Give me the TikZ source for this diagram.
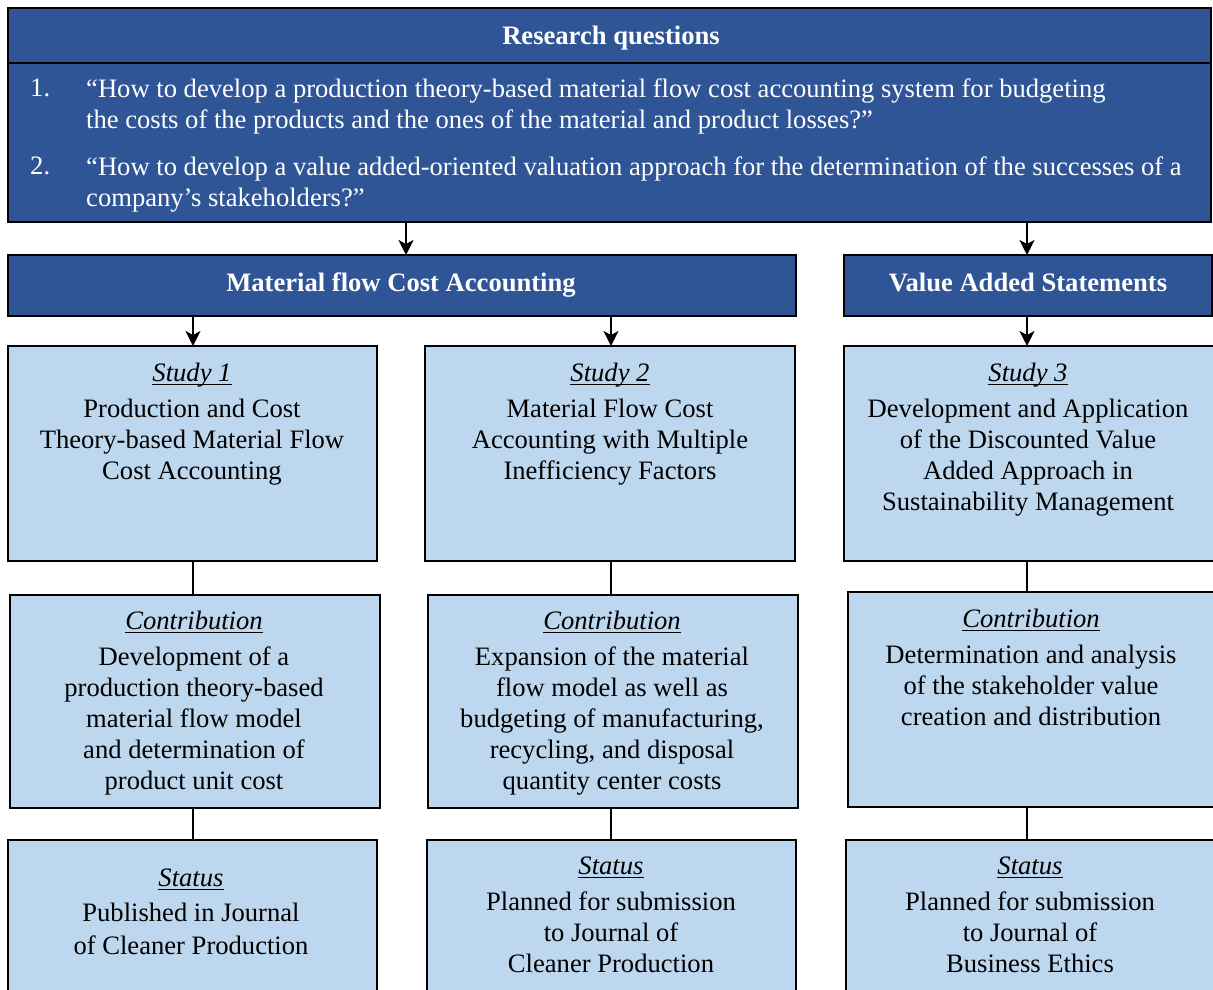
\documentclass[tikz,border=0pt]{standalone}
\usepackage{fontspec}
\setmainfont{Liberation Serif}
\usetikzlibrary{arrows.meta}

\definecolor{darkblue}{HTML}{2F5597}
\definecolor{lightblue}{HTML}{BDD7EE}

\newcommand{\bodyfont}{\fontsize{26.6}{31}\selectfont}
% italic heading with a rule just under the baseline
\newcommand{\ulit}[1]{\setbox0\hbox{\itshape #1}\leavevmode\rlap{\rule[-3.5pt]{\wd0}{1.3pt}}\box0}
\newcommand{\hd}[1]{\ulit{#1}\\[5pt]}

\tikzset{
  boxbase/.style={draw=black, line width=2pt, inner sep=0pt, outer sep=0pt, anchor=north west},
  darkbox/.style={boxbase, fill=darkblue},
  lightbox/.style={boxbase, fill=lightblue},
  boxtext/.style={align=center, inner sep=0pt, anchor=north, font=\bodyfont, text=black},
  whitebold/.style={inner sep=0pt, anchor=base, font=\bodyfont\bfseries, text=white},
  qtext/.style={align=left, inner sep=0pt, anchor=north west, font=\bodyfont, text=white},
  arr/.style={line width=2pt, -{Stealth[length=15pt, width=15pt, inset=4pt]}},
  link/.style={line width=2.2pt}
}

\begin{document}
\begin{tikzpicture}[x=1pt, y=-1pt]
\useasboundingbox (0,0) rectangle (1213,990);
\clip (0,0) rectangle (1213,990);

% research questions
\node[darkbox, minimum width=1203pt, minimum height=55pt] (rqt) at (8,8) {};
\node[darkbox, minimum width=1203pt, minimum height=159pt] (rqb) at (8,63) {};
\node[whitebold] (rqlabel) at (611,44.5) {Research questions};
\node[qtext] (n1) at (30,79) {1.};
\node[qtext] (q1) at (86,79) {“How to develop a production theory-based material flow cost accounting system for budgeting\\the costs of the products and the ones of the material and product losses?”};
\node[qtext] (n2) at (30,157) {2.};
\node[qtext] (q2) at (86,157) {“How to develop a value added-oriented valuation approach for the determination of the successes of a\\company’s stakeholders?”};

% streams
\node[darkbox, minimum width=788pt, minimum height=61pt] (mfca) at (8,255) {};
\node[whitebold] (mfcalabel) at (401,291.5) {Material flow Cost Accounting};
\node[darkbox, minimum width=368pt, minimum height=61pt] (vas) at (844,255) {};
\node[whitebold] (vaslabel) at (1028,291.5) {Value Added Statements};

% studies
\node[lightbox, minimum width=369pt, minimum height=215pt] (s1) at (8,346) {};
\node[lightbox, minimum width=370pt, minimum height=215pt] (s2) at (425,346) {};
\node[lightbox, minimum width=380pt, minimum height=215pt] (s3) at (844,346) {};

\node[boxtext] (s1t) at (192,363) {\hd{Study 1}Production and Cost\\Theory-based Material Flow\\Cost Accounting};
\node[boxtext] (s2t) at (610,363) {\hd{Study 2}Material Flow Cost\\Accounting with Multiple\\Inefficiency Factors};
\node[boxtext] (s3t) at (1028,363) {\hd{Study 3}Development and Application\\of the Discounted Value\\Added Approach in\\Sustainability Management};

% contributions
\node[lightbox, minimum width=370pt, minimum height=213pt] (c1) at (10,595) {};
\node[lightbox, minimum width=370pt, minimum height=213pt] (c2) at (428,595) {};
\node[lightbox, minimum width=380pt, minimum height=215pt] (c3) at (848,592) {};

\node[boxtext] (c1t) at (194,611) {\hd{Contribution}Development of a\\production theory-based\\material flow model\\and determination of\\product unit cost};
\node[boxtext] (c2t) at (612,611) {\hd{Contribution}Expansion of the material\\flow model as well as\\budgeting of manufacturing,\\recycling, and disposal\\quantity center costs};
\node[boxtext] (c3t) at (1031,609) {\hd{Contribution}Determination and analysis\\of the stakeholder value\\creation and distribution};

% status
\node[lightbox, minimum width=369pt, minimum height=170pt] (t1) at (8,840) {};
\node[lightbox, minimum width=369pt, minimum height=170pt] (t2) at (427,840) {};
\node[lightbox, minimum width=380pt, minimum height=170pt] (t3) at (846,840) {};

\node[boxtext] (t1t) at (191,868.5) {\ulit{Status}\\[4pt]Published in Journal\\[2pt]of Cleaner Production};
\node[boxtext] (t2t) at (611,856.5) {\hd{Status}Planned for submission\\to Journal of\\Cleaner Production};
\node[boxtext] (t3t) at (1030,856.5) {\hd{Status}Planned for submission\\to Journal of\\Business Ethics};

% connectors
\coordinate (colA) at (193,0);
\coordinate (colB) at (611,0);
\coordinate (colC) at (1027,0);
\coordinate (colM) at (406,0);

\draw[arr] (colM |- rqb.south) -- (colM |- mfca.north);
\draw[arr] (colC |- rqb.south) -- (colC |- vas.north);
\draw[arr] (colA |- mfca.south) -- (colA |- s1.north);
\draw[arr] (colB |- mfca.south) -- (colB |- s2.north);
\draw[arr] (colC |- vas.south) -- (colC |- s3.north);

\draw[link] (colA |- s1.south) -- (colA |- c1.north);
\draw[link] (colB |- s2.south) -- (colB |- c2.north);
\draw[link] (colC |- s3.south) -- (colC |- c3.north);
\draw[link] (colA |- c1.south) -- (colA |- t1.north);
\draw[link] (colB |- c2.south) -- (colB |- t2.north);
\draw[link] (colC |- c3.south) -- (colC |- t3.north);
\end{tikzpicture}
\end{document}
